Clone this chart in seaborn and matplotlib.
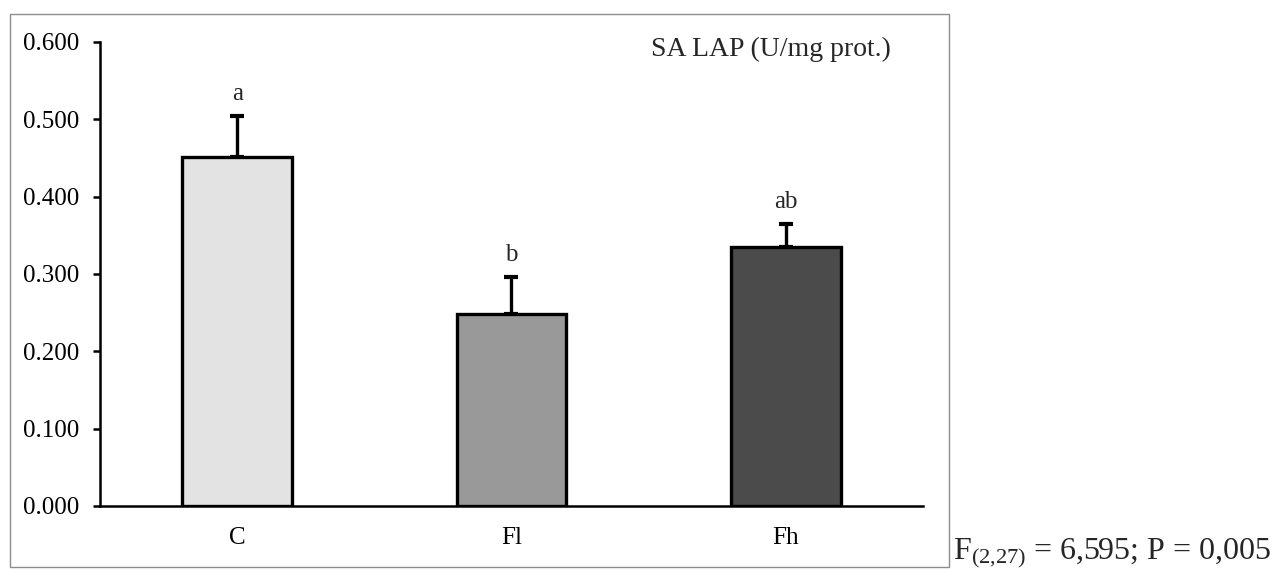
import matplotlib
matplotlib.use("Agg")
import matplotlib.pyplot as plt
import seaborn as sns
import pandas as pd
from matplotlib.patches import Rectangle

groups = ["C", "Fl", "Fh"]
means = [0.451, 0.248, 0.335]
errors = [0.053, 0.048, 0.030]
letters = ["a", "b", "ab"]
colors = ["#e3e3e3", "#999999", "#4b4b4b"]
yticks = [0.0, 0.1, 0.2, 0.3, 0.4, 0.5, 0.6]

sns.set_theme(style="white")
plt.rcParams["font.family"] = ["Liberation Serif", "DejaVu Serif"]
plt.rcParams["mathtext.fontset"] = "custom"
plt.rcParams["mathtext.rm"] = "Liberation Serif"
plt.rcParams["mathtext.it"] = "Liberation Serif:italic"

df = pd.DataFrame({"group": groups, "mean": means})

fig = plt.figure(figsize=(12.76, 5.71), dpi=100)
ax = fig.add_axes([100 / 1276, 65 / 571, 823 / 1276, 464 / 571])

sns.barplot(data=df, x="group", y="mean", hue="group", palette=colors,
            legend=False, width=0.4, edgecolor="black", linewidth=2.4,
            errorbar=None, ax=ax, zorder=3)

ax.errorbar(range(len(groups)), means, yerr=[[0] * len(errors), errors],
            fmt="none", ecolor="black", elinewidth=2.4, capsize=5,
            capthick=3, zorder=2)

for i, (m, e, l) in enumerate(zip(means, errors, letters)):
    ax.text(i, m + e + 0.014, l, ha="center", va="bottom", fontsize=18)

ax.set_ylim(0, 0.6)
ax.set_xlim(-0.5, 2.5)
ax.set_yticks(yticks)
ax.set_yticklabels([f"{v:.3f}" for v in yticks], fontsize=18)
ax.tick_params(axis="y", direction="out", length=5, width=1.8, left=True,
               pad=10, colors="black")
ax.tick_params(axis="x", length=0, pad=15, labelsize=18, colors="black")
ax.set_xlabel("")
ax.set_ylabel("")
for s in ["top", "right"]:
    ax.spines[s].set_visible(False)
for s in ["left", "bottom"]:
    ax.spines[s].set_color("black")
    ax.spines[s].set_linewidth(1.8)

ax.text(0.815, 0.985, "SA LAP (U/mg prot.)", transform=ax.transAxes,
        ha="center", va="center", fontsize=20)

fig.patches.append(Rectangle((10 / 1276, 4 / 571), 939 / 1276, 553 / 571,
                             transform=fig.transFigure, fill=False,
                             edgecolor="#8c8c8c", linewidth=1.0))

fig.text(953 / 1276, 1 / 571, r"F$_{\mathrm{(2{,}27)}}$ = 6,595; P = 0,005",
         ha="left", va="bottom", fontsize=23)

fig.savefig("out.png", dpi=100)
